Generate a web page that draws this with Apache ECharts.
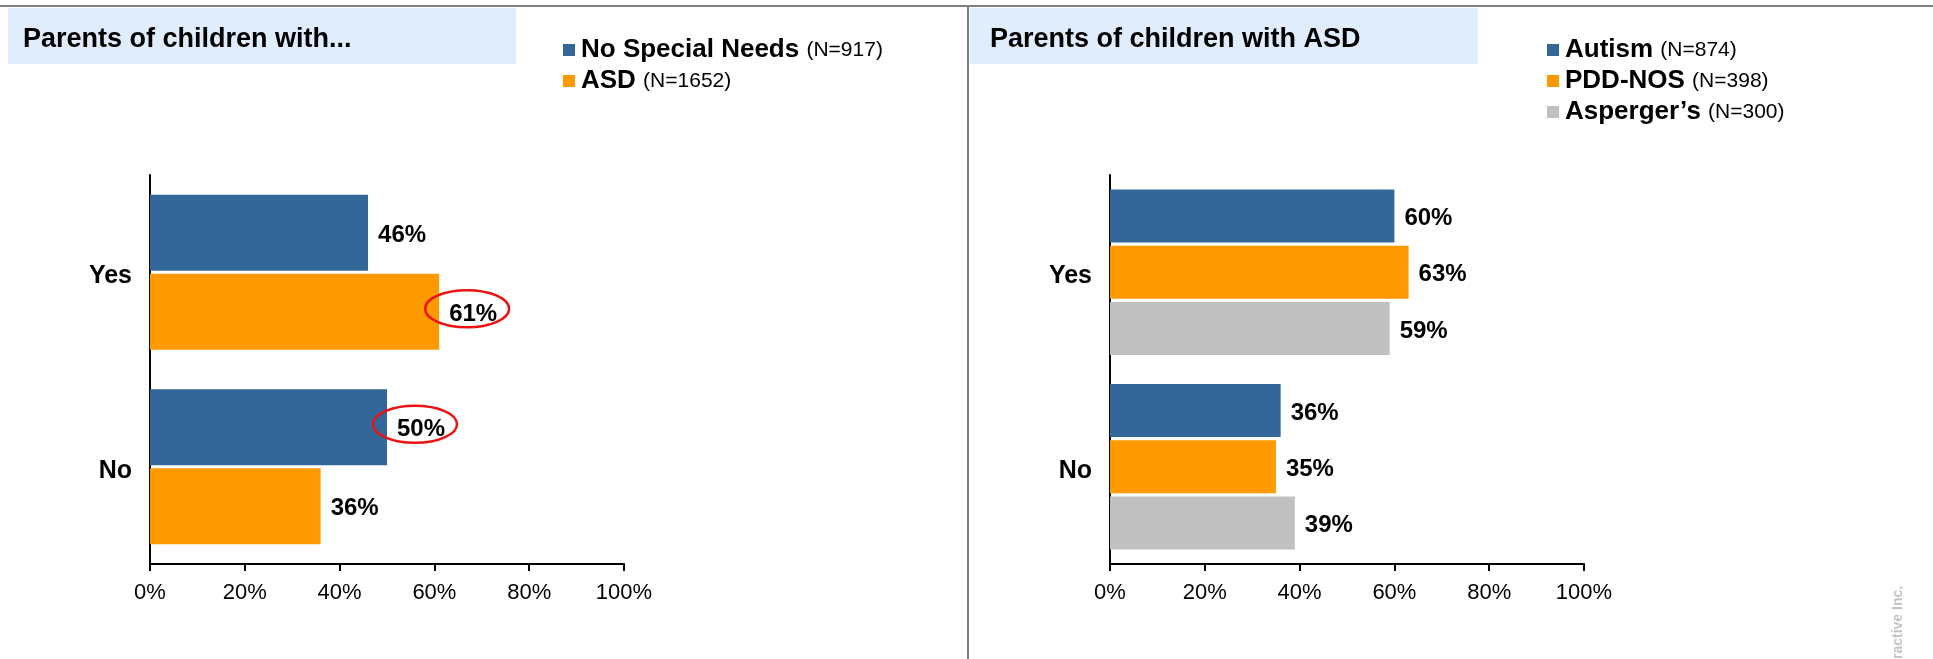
<!DOCTYPE html>
<html>
<head>
<meta charset="utf-8">
<script src="https://cdn.jsdelivr.net/npm/echarts@6/dist/echarts.min.js"></script>
<style>
  html, body { margin: 0; padding: 0; background: #fff; }
  #chart { width: 1933px; height: 659px; }
</style>
</head>
<body>
<div id="chart"></div>
<script>
// Answer categories shared by both panels
const answers = ['Yes', 'No'];
// Percent tick labels of the value axes
const pctTicks = [0, 20, 40, 60, 80, 100];

// Left panel: parents of children with no special needs vs. ASD
const leftGroups = ['No Special Needs', 'ASD'];
const leftCounts = [917, 1652];
const noSpecialNeeds = [46, 50];
const asd = [61, 36];

// Right panel: parents of children with ASD, by diagnosis
const rightGroups = ['Autism', 'PDD-NOS', 'Asperger’s'];
const rightCounts = [874, 398, 300];
const autism = [60, 36];
const pddNos = [63, 35];
const aspergers = [59, 39];

// Values that get a red ring around their label
const circled = [
  { series: 'ASD', answer: 'Yes' },
  { series: 'No Special Needs', answer: 'No' }
];

const FONT = '"Liberation Sans", Arial, Helvetica, sans-serif';
const BLUE = '#336699', ORANGE = '#ff9900', GRAY = '#c0c0c0';

const chart = echarts.init(document.getElementById('chart'), null, { renderer: 'canvas' });

function valueAxis(gridIndex) {
  return {
    type: 'value', gridIndex,
    min: pctTicks[0], max: pctTicks[pctTicks.length - 1],
    interval: pctTicks[1] - pctTicks[0],
    axisLine: { show: true, lineStyle: { color: '#000', width: 2 } },
    axisTick: { show: true, length: 7, lineStyle: { color: '#000', width: 2 } },
    splitLine: { show: false },
    axisLabel: {
      margin: 18, fontSize: 22, color: '#000', fontFamily: FONT,
      formatter: v => pctTicks.includes(v) ? v + '%' : ''
    }
  };
}

function categoryAxis(gridIndex) {
  return {
    type: 'category', gridIndex, data: answers, inverse: true,
    axisLine: { show: true, lineStyle: { color: '#000', width: 2 } },
    axisTick: { show: false },
    axisLabel: {
      margin: 18, color: '#000',
      formatter: v => `{a|${v}}`,
      rich: { a: { fontSize: 25, fontWeight: 'bold', color: '#000', fontFamily: FONT, padding: [8, 0, 0, 0] } }
    }
  };
}

function barSeries(name, values, color, axisIndex, width, gap) {
  return {
    type: 'bar', name, data: values,
    xAxisIndex: axisIndex, yAxisIndex: axisIndex,
    barWidth: width, barGap: gap,
    itemStyle: { color },
    label: {
      show: true, position: 'right', distance: 10,
      formatter: v => `{v|${v.value}%}`,
      rich: { v: { fontSize: 24, fontWeight: 'bold', color: '#000', fontFamily: FONT, padding: [5, 0, 0, 0] } }
    },
    emphasis: { disabled: true },
    animation: false
  };
}

function legendFor(names, counts, left) {
  return {
    data: names, left, top: 32, orient: 'vertical',
    icon: 'rect', itemWidth: 12, itemHeight: 12, itemGap: 5,
    selectedMode: false,
    formatter: n => `{b|${n} }{n|(N=${counts[names.indexOf(n)]})}`,
    textStyle: {
      fontFamily: FONT,
      rich: {
        b: { fontSize: 26, fontWeight: 'bold', color: '#000', lineHeight: 27, padding: [0, 0, 0, 1], fontFamily: FONT },
        n: { fontSize: 21, color: '#000', lineHeight: 27, fontFamily: FONT }
      }
    }
  };
}

// Frame: top rule, panel divider, title boxes, footer credit
const baseGraphic = [
  { id: 'topRule', type: 'rect', shape: { x: 0, y: 5, width: 1933, height: 2 }, style: { fill: '#808080' }, silent: true },
  { id: 'divider', type: 'rect', shape: { x: 967, y: 5, width: 2, height: 654 }, style: { fill: '#808080' }, silent: true },
  { id: 'boxL', type: 'rect', shape: { x: 8, y: 8, width: 508, height: 56 }, style: { fill: '#dfedfc' }, silent: true },
  { id: 'boxR', type: 'rect', shape: { x: 970, y: 8, width: 508, height: 56 }, style: { fill: '#dfedfc' }, silent: true },
  {
    id: 'credit', type: 'text', x: 1898, y: 659, rotation: Math.PI / 2,
    style: { text: 'ractive Inc.', fontSize: 14, fontWeight: 'bold', fill: '#c4c4c4', fontFamily: FONT, align: 'left', verticalAlign: 'middle' },
    silent: true
  }
];

const option = {
  animation: false,
  textStyle: { fontFamily: FONT },
  title: [
    { text: 'Parents of children with...', left: 23, top: 26, padding: 0,
      textStyle: { fontSize: 27, fontWeight: 'bold', color: '#000', fontFamily: FONT } },
    { text: 'Parents of children with ASD', left: 990, top: 26, padding: 0,
      textStyle: { fontSize: 27, fontWeight: 'bold', color: '#000', fontFamily: FONT } }
  ],
  legend: [
    legendFor(leftGroups, leftCounts, 558),
    legendFor(rightGroups, rightCounts, 1542)
  ],
  grid: [
    { left: 150, top: 175, width: 474, height: 389 },
    { left: 1110, top: 175, width: 474, height: 389 }
  ],
  xAxis: [valueAxis(0), valueAxis(1)],
  yAxis: [categoryAxis(0), categoryAxis(1)],
  series: [
    barSeries(leftGroups[0], noSpecialNeeds, BLUE, 0, 76, '4%'),
    barSeries(leftGroups[1], asd, ORANGE, 0, 76, '4%'),
    barSeries(rightGroups[0], autism, BLUE, 1, 53, '6%'),
    barSeries(rightGroups[1], pddNos, ORANGE, 1, 53, '6%'),
    barSeries(rightGroups[2], aspergers, GRAY, 1, 53, '6%')
  ],
  graphic: baseGraphic
};

chart.setOption(option);

// Red rings around the highlighted value labels, placed from each bar's layout
const model = chart.getModel();
const rings = [];
circled.forEach((c, i) => {
  const s = model.getSeries().find(m => m.name === c.series);
  if (!s) return;
  const lay = s.getData().getItemLayout(answers.indexOf(c.answer));
  if (!lay) return;
  const endX = lay.x + lay.width;
  const cy = lay.y + lay.height / 2;
  rings.push({
    id: 'ring' + i, type: 'ellipse', silent: true, z: 10,
    shape: { cx: endX + 28, cy: cy - 3, rx: 42, ry: 18.5 },
    style: { fill: 'none', stroke: '#ee1111', lineWidth: 2.5 }
  });
});
chart.setOption({ graphic: baseGraphic.concat(rings) });
</script>
</body>
</html>
